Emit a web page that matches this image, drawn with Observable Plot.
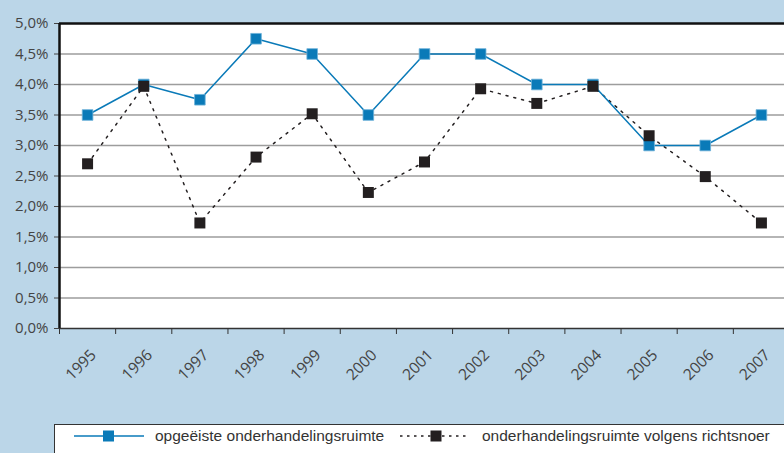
<!DOCTYPE html>
<html>
<head>
<meta charset="utf-8">
<script src="https://cdn.jsdelivr.net/npm/d3@7"></script>
<script src="https://cdn.jsdelivr.net/npm/@observablehq/plot@0.6"></script>
<style>
  html, body { margin: 0; padding: 0; background: #bbd6e8; overflow: hidden; width: 784px; height: 453px; }
  #chart svg { display: block; background: transparent; }
  #legend {
    position: absolute; left: 54px; top: 424px; width: 760px; height: 60px;
    background: white; border: 1px solid #333; box-sizing: border-box;
    font-family: "Liberation Sans", Arial, sans-serif;
    font-size: 15.5px; color: #333; white-space: nowrap;
  }
  .item { position: absolute; top: 0; height: 22px; display: flex; align-items: center; white-space: nowrap; }
  .item svg { display: block; flex: none; }
</style>
</head>
<body>
<div id="chart"></div>
<div id="legend">
  <div class="item" style="left:18px; top:0px">
    <svg width="72" height="22"><line x1="1" x2="71" y1="11" y2="11" stroke="#0a7ab8" stroke-width="1.5"/><rect x="30" y="5.5" width="11" height="11" fill="#0a7ab8"/></svg>
    <span style="margin-left:10px">opgeëiste onderhandelingsruimte</span>
  </div>
  <div class="item" style="left:344px; top:0px">
    <svg width="72" height="22"><line x1="1" x2="71" y1="11" y2="11" stroke="#231f20" stroke-width="1.5" stroke-dasharray="2.5,4.5"/><rect x="31.5" y="5.5" width="11" height="11" fill="#231f20"/></svg>
    <span style="margin-left:11px">onderhandelingsruimte volgens richtsnoer</span>
  </div>
</div>
<script>
const years = [1995, 1996, 1997, 1998, 1999, 2000, 2001, 2002, 2003, 2004, 2005, 2006, 2007];
const opgeeist = [3.5, 4.0, 3.75, 4.75, 4.5, 3.5, 4.5, 4.5, 4.0, 4.0, 3.0, 3.0, 3.5];
const richtsnoer = [2.7, 3.97, 1.73, 2.81, 3.52, 2.23, 2.73, 3.93, 3.69, 3.97, 3.16, 2.49, 1.73];
const yTicks = [0, 0.5, 1.0, 1.5, 2.0, 2.5, 3.0, 3.5, 4.0, 4.5, 5.0];
const seriesNames = ["opgeëiste onderhandelingsruimte", "onderhandelingsruimte volgens richtsnoer"];

const blue = "#0a7ab8";
const dark = "#231f20";

const dataA = years.map((y, i) => ({year: y, value: opgeeist[i]}));
const dataB = years.map((y, i) => ({year: y, value: richtsnoer[i]}));
const boundaries = years.map(y => y - 0.5).concat([years[years.length - 1] + 0.5]);
const fmt = d => d.toFixed(1).replace(".", ",") + "%";

const chart = Plot.plot({
  width: 784,
  height: 424,
  marginLeft: 59,
  marginRight: 0,
  marginTop: 23,
  marginBottom: 96,
  style: {background: "transparent", fontFamily: "'Open Sans', Lato, sans-serif"},
  x: {type: "linear", domain: [years[0] - 0.5, years[years.length - 1] + 0.5], range: [59, 789]},
  y: {domain: [0, 5]},
  marks: [
    Plot.frame({fill: "white", stroke: null}),
    Plot.ruleY(yTicks.filter(d => d > 0 && d < 5), {stroke: "#9d9d9d", strokeWidth: 1.5}),
    Plot.ruleY([0], {stroke: "#333", strokeWidth: 1.5}),
    Plot.ruleY([5], {stroke: "#111", strokeWidth: 2.5}),
    Plot.axisY({ticks: yTicks, tickFormat: fmt, tickSize: 5, tickPadding: 6, fontSize: 15, color: "#444", label: null}),
    Plot.axisX({ticks: boundaries, tickFormat: () => "", tickSize: 6, color: "#333", label: null}),
    Plot.axisX({ticks: years, tickFormat: d => String(d), tickSize: 0, tickPadding: 24, tickRotate: -45, dx: 6, fontSize: 15.5, color: "#444", label: null}),
    Plot.ruleX([years[0] - 0.5], {stroke: "#111", strokeWidth: 2.5}),
    Plot.line(dataB, {x: "year", y: "value", stroke: dark, strokeWidth: 1.5, strokeDasharray: "2,6"}),
    Plot.line(dataA, {x: "year", y: "value", stroke: blue, strokeWidth: 1.5}),
    Plot.dot(dataA, {x: "year", y: "value", symbol: "square", r: 6, fill: blue, stroke: "#6fb3d9", strokeWidth: 0.8}),
    Plot.dot(dataB, {x: "year", y: "value", symbol: "square", r: 6.2, fill: dark})
  ]
});
document.getElementById("chart").appendChild(chart);
</script>
</body>
</html>
